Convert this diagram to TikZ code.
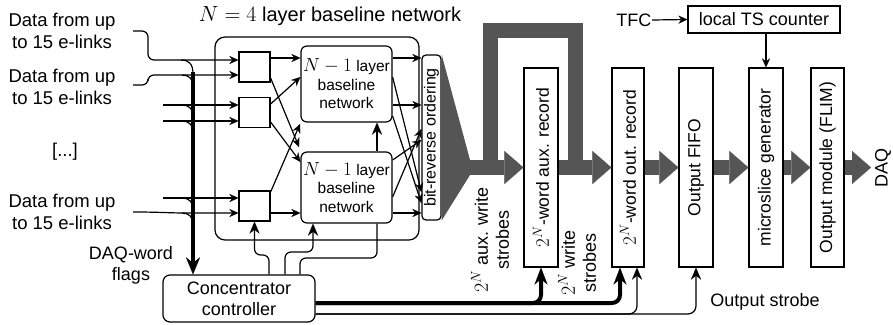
\RequirePackage{fix-cm}
\documentclass[tikz,border=0pt]{standalone}
\usepackage{fontspec}
\setmainfont{Liberation Sans}
\DeclareMathSizes{20}{22}{15}{11}
\DeclareMathSizes{18}{20}{14}{10}
\DeclareMathSizes{17.5}{19}{13.5}{10}
\DeclareMathSizes{15.5}{19}{13.5}{10}
\usetikzlibrary{arrows.meta,calc}
\definecolor{fatgray}{RGB}{85,85,85}
\begin{document}
\begin{tikzpicture}[x=1pt,y=-1pt, line width=1.2pt,
  lbl/.style={font=\fontsize{18}{21}\selectfont, align=center, inner sep=0pt},
  dlbl/.style={font=\fontsize{18.5}{22}\selectfont, align=center, inner sep=0pt},
  small/.style={font=\fontsize{15.5}{18.5}\selectfont, align=center, inner sep=0pt},
  rtext/.style={font=\fontsize{17.5}{20}\selectfont, rotate=90, inner sep=0pt},
  sw/.style={draw, minimum width=31pt, minimum height=30pt, inner sep=0pt},
  sub/.style={draw, rounded corners=6pt, minimum width=91pt, inner sep=0pt, small},
  tall/.style={draw, minimum width=34pt, minimum height=199pt, inner sep=0pt},
  arr/.style={-{Stealth[length=9pt,width=8pt,line width=0.1pt]}},
  carr/.style={-{Stealth[length=12pt,width=10pt,line width=0.1pt]}},
  thk/.style={line width=4pt, -{Stealth[length=17pt,width=13pt,line width=0.1pt]}},
  fat/.style={draw=fatgray, line width=15pt, -{Triangle[length=19pt,width=33pt,line width=0.1pt]}},
]
\path[use as bounding box, fill=white] (0,0) rectangle (893,324);

% ---------- left labels ----------
\node[dlbl] (d1) at (62,31) {Data from up\\to 15 e-links};
\node[dlbl] (d2) at (62,87) {Data from up\\to 15 e-links};
\node[dlbl] (dots) at (65,152) {[...]};
\node[dlbl] (d3) at (62,212) {Data from up\\to 15 e-links};
\node[lbl] (flags) at (131,265) {DAQ-word\\flags};
\node[lbl, font=\fontsize{20}{24}\selectfont] (title) at (330,16) {$N=4$ layer baseline network};

% ---------- network ----------
\node[draw, rounded corners=10pt, minimum width=204pt, minimum height=203pt, inner sep=0pt] (net) at (317,138.5) {};
\node[sw] (box1) at (254.5,67) {};
\node[sw] (box2) at (254.5,112.5) {};
\node[sw] (box3) at (254.5,206) {};
\node[sub, minimum height=76pt] (big1) at (346.5,84) {$N-1$ layer\\baseline\\network};
\node[sub, minimum height=71pt] (big2) at (346.5,187.5) {$N-1$ layer\\baseline\\network};
\node[draw, rounded corners=4pt, minimum width=19pt, minimum height=165pt, inner sep=0pt] (bitrev) at (431.5,137.5) {};
\node[font=\fontsize{16}{19}\selectfont, rotate=90, inner sep=0pt] (bitrevt) at (bitrev.center) {bit-reverse ordering};

% ---------- controller ----------
\node[draw, rounded corners=7pt, minimum width=152pt, minimum height=47pt, lbl] (ctrl) at (239,298.5) {Concentrator\\controller};

% ---------- right boxes ----------
\node[tall] (aux) at (541,167.5) {};
\node[rtext] (auxt) at (aux.center) {$2^N$-word aux. record};
\node[tall, minimum width=32pt] (out) at (628,167.5) {};
\node[rtext] (outt) at (out.center) {$2^N$-word out. record};
\node[tall] (fifo) at (696,167.5) {};
\node[rtext] (fifot) at (fifo.center) {Output FIFO};
\node[tall] (micro) at (766,167.5) {};
\node[rtext] (microt) at (micro.center) {microslice generator};
\node[tall, minimum width=33pt] (module) at (827.5,167.5) {};
\node[rtext] (modulet) at (module.center) {Output module (FLIM)};
\node[draw, lbl, minimum width=152pt, minimum height=27pt] (ts) at (764,19.5) {local TS counter};
\node[lbl, anchor=east] (tfc) at (652,20) {TFC};
\node[lbl, rotate=90] (daq) at (883,167.5) {DAQ};
\coordinate (daqin) at (871,167.5);

% ---------- other labels ----------
\node[lbl, rotate=90] (auxw) at (490,240) {$2^N$ aux. write\\strobes};
\node[lbl, rotate=90] (wstr) at (577,263) {$2^N$ write\\strobes};
\node[lbl] (ostr) at (765,302) {Output strobe};

% ---------- input lines ----------
\coordinate (s1) at (133,31);
\coordinate (s2) at (133,85);
\coordinate (s3) at (163,105);
\coordinate (s4) at (163,121);
\coordinate (s5) at (163,198);
\coordinate (s6) at (133,212);
\draw[arr, rounded corners=6pt] (s1) -- (148,31) -- (148,60) -- (box1.west |- 0,60);
\draw[arr, rounded corners=6pt] (s2) -- (148,85) -- (148,75) -- (box1.west |- 0,75);
\draw[arr] (s3) -- (box2.west |- 0,105);
\draw[arr] (s4) -- (box2.west |- 0,121);
\draw[arr] (s5) -- (box3.west |- 0,198);
\draw[arr] (s6) .. controls (160,212) and (170,213) .. (185,213) -- (box3.west |- 0,213);

% bus taps
\draw (181,60) .. controls (189,60) and (193,64) .. (193,74);
\foreach \yy in {75,105,121,198,213}
  \draw (182,\yy) .. controls (189,\yy) and (193,\yy+4) .. (193,\yy+11);
\draw[line width=4.5pt, -{Stealth[length=17pt,width=14pt,line width=0.1pt]}] (193,72) -- (ctrl.north -| 193,0);

% ---------- network internal arrows ----------
\draw[arr] (box1.east |- 0,58) -- (big1.west |- 0,58);
\draw[arr] (box1.east |- 0,78) -- (299,147);
\draw[arr] (box2.east |- 0,104) -- (big1.west |- 0,77);
\draw[arr] (box2.east |- 0,122) -- (big2.west |- 0,162);
\draw[arr] (box3.east |- 0,192) -- (300,124);
\draw[arr] (box3.east |- 0,213) -- (big2.west |- 0,213);

\draw[arr] (big1.east |- 0,58) -- (bitrev.west |- 0,58);
\draw[arr] (big1.east |- 0,105) -- (bitrev.west |- 0,105);
\draw[arr] (big1.east |- 0,77) -- (bitrev.west |- 0,192);
\draw[arr] (big1.east |- 0,116) -- (bitrev.west |- 0,203);
\draw[arr] (big2.east |- 0,160) -- (bitrev.west |- 0,140);
\draw[arr] (big2.east |- 0,197) -- (bitrev.west |- 0,129);
\draw[arr] (big2.east |- 0,213) -- (bitrev.west |- 0,213);

% ---------- controller lines ----------
\draw[carr, rounded corners=6pt] (ctrl.north -| 269,0) -- (269,255) -- (box3.south |- 0,255) -- (box3.south);
\draw[carr, rounded corners=6pt] (ctrl.north -| 285,0) -- (285,252) -- (313,252) -- (big2.south -| 313,0);
\draw[rounded corners=6pt] (ctrl.north -| 300,0) -- (300,258) -- (377,258) -- (big2.south -| 377,0);
\draw[carr] (big2.north -| 377,0) -- (big1.south -| 377,0);

\draw[thk, rounded corners=8pt] (ctrl.east |- 0,303) -| (aux.south);
\draw[thk, rounded corners=8pt] (ctrl.east |- 0,303) -| ($(out.south)+(-8,0)$);
\draw[carr, rounded corners=8pt] (ctrl.east |- 0,314) -| ($(out.south)+(9,0)$);
\draw[carr, rounded corners=8pt] (ctrl.east |- 0,314) -| (fifo.south);

% ---------- fat data path ----------
\fill[fatgray] (bitrev.north east) -- (470,160) -- (470,175) -- (bitrev.south east) -- cycle;
\draw[fat] (469,167.5) -- (aux.west);
\draw[fatgray, line width=15pt] (490.5,168) -- (490.5,30.5) -- (575,30.5) -- (575,168);
\draw[fat] (aux.east) -- (out.west);
\draw[fat] (out.east) -- (fifo.west);
\draw[fat] (fifo.east) -- (micro.west);
\draw[fat] (micro.east) -- (module.west);
\draw[fat] (module.east) -- (daqin);

% ---------- timing ----------
\draw[arr] (tfc.east) -- (ts.west);
\draw[arr] (micro.north |- ts.south) -- (micro.north);
\end{tikzpicture}
\end{document}
